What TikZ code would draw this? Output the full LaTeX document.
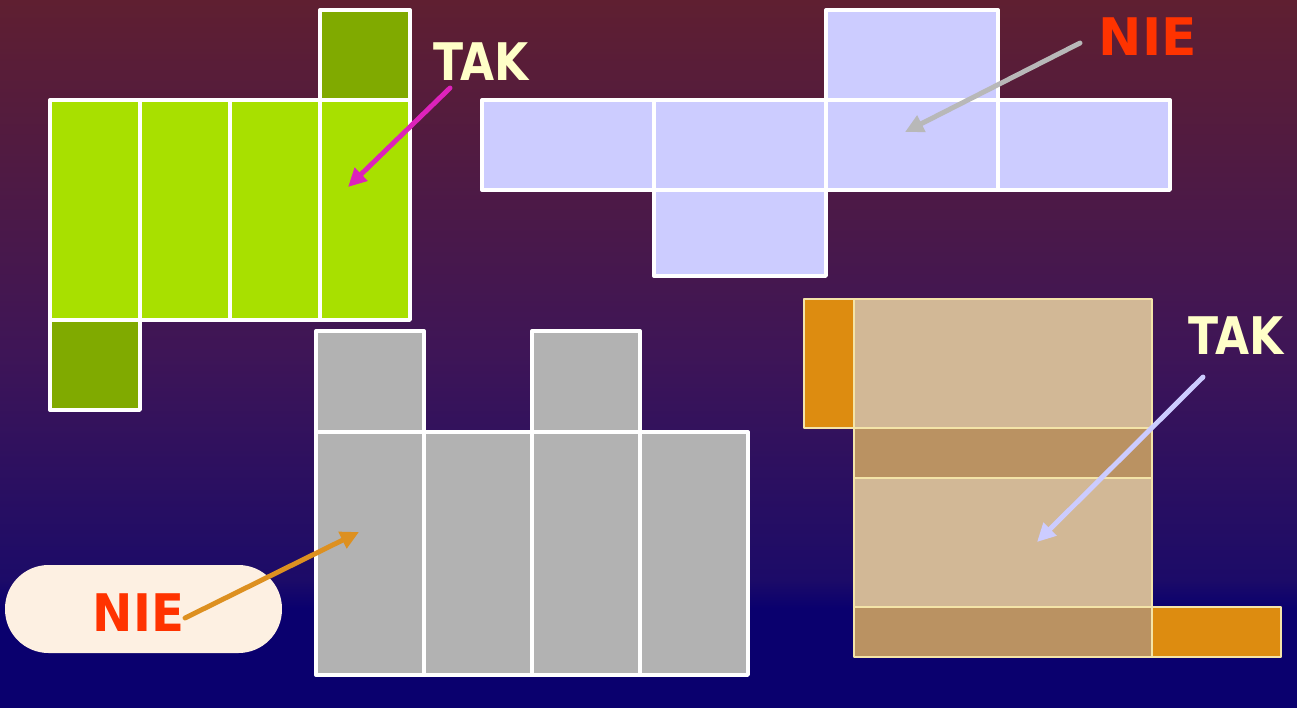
\documentclass[tikz,border=0pt]{standalone}
\usepackage{fontspec}
\setsansfont{DejaVu Sans}
\usetikzlibrary{arrows.meta}
\definecolor{bgtop}{HTML}{5F1F31}
\definecolor{bgmid}{HTML}{3E1557}
\definecolor{bglow}{HTML}{1C0B68}
\definecolor{bgbot}{HTML}{0A006E}
\definecolor{leafgreen}{HTML}{A8E000}
\definecolor{mossgreen}{HTML}{80AA00}
\definecolor{lavender}{HTML}{CCCCFF}
\definecolor{slate}{HTML}{B2B2B2}
\definecolor{sand}{HTML}{D2B896}
\definecolor{bark}{HTML}{BA9262}
\definecolor{amber}{HTML}{DD8C10}
\definecolor{cream}{HTML}{FFFFC8}
\definecolor{alarm}{HTML}{FF3300}
\definecolor{pinkarrow}{HTML}{DD22BB}
\definecolor{goldarrow}{HTML}{DD9020}
\definecolor{greyarrow}{HTML}{B8B8B8}
\definecolor{pillfill}{HTML}{FDF0E2}
\definecolor{seam}{HTML}{F4E4A8}
% the shaded path covers 25bp..75bp of the shading
\pgfdeclareverticalshading{slidebg}{100bp}{color(0bp)=(bgbot); color(32bp)=(bgbot); color(34bp)=(bglow); color(50bp)=(bgmid); color(75bp)=(bgtop); color(100bp)=(bgtop)}
\tikzset{
    face/.style={fill=#1, draw=white, line width=1.9pt},
    sandface/.style={fill=#1, draw=seam, line width=0.8pt},
    verdict/.style={font=\sffamily\bfseries\fontsize{29.5}{30}\selectfont, inner sep=0pt, anchor=base},
    pointer/.style={draw=#1, line width=2.8pt, -{Triangle[length=10.5pt,width=10pt]}}
}
\begin{document}
\begin{tikzpicture}[line join=round, line cap=round, x=0.02cm, y=-0.02cm]
    \shade[shading=slidebg] (0,0) rectangle (1297,707);
    % green net
    \foreach \c in {0, 1, 2, 3} {
        \draw[face=leafgreen] (50+90*\c,100) rectangle ++(90,220);
    }
    \draw[face=mossgreen] (320,10) rectangle (410,100);
    \draw[face=mossgreen] (50,320) rectangle (140,410);
    % lavender net
    \foreach \c in {0, 1, 2, 3} {
        \draw[face=lavender] (482+172*\c,100) rectangle ++(172,90);
    }
    \draw[face=lavender] (826,10) rectangle ++(172,90);
    \draw[face=lavender] (654,190) rectangle ++(172,86);
    % grey net
    \foreach \c in {0, 1, 2, 3} {
        \draw[face=slate] (316+108*\c,432) rectangle ++(108,243);
    }
    \foreach \c in {0, 2} {
        \draw[face=slate] (316+108*\c,331) rectangle ++(108,101);
    }
    % sand net
    \draw[sandface=amber] (804,299) rectangle (854,428);
    \draw[sandface=sand] (854,299) rectangle (1152,428);
    \draw[sandface=bark] (854,428) rectangle (1152,478);
    \draw[sandface=sand] (854,478) rectangle (1152,607);
    \draw[sandface=bark] (854,607) rectangle (1152,657);
    \draw[sandface=amber] (1152,607) rectangle (1281,657);
    % labels
    \node[verdict, text=cream] (takgreen) at (481,80) {\scalebox{0.85}[1]{TAK}};
    \node[verdict, text=alarm] (nielav) at (1148,55) {NIE};
    \node[verdict, text=cream] (taksand) at (1236,354) {\scalebox{0.85}[1]{TAK}};
    \node[fill=pillfill, rounded corners=0.87cm, minimum width=5.54cm, minimum height=1.76cm, inner sep=0pt] (pill) at (143.5,609) {};
    \node[verdict, text=alarm] (nieslate) at (138.5,631) {\scalebox{0.93}[1]{NIE}};
    % arrows
    \coordinate (pinkfrom) at (450,88);
    \coordinate (pinkto) at (348,187);
    \coordinate (greyfrom) at (1080,43);
    \coordinate (greyto) at (905,132);
    \coordinate (goldfrom) at (185,618);
    \coordinate (goldto) at (359,532);
    \coordinate (lavfrom) at (1203,377);
    \coordinate (lavto) at (1037,542);
    \draw[pointer=pinkarrow] (pinkfrom) -- (pinkto);
    \draw[pointer=greyarrow] (greyfrom) -- (greyto);
    \draw[pointer=goldarrow] (goldfrom) -- (goldto);
    \draw[pointer=lavender] (lavfrom) -- (lavto);
\end{tikzpicture}
\end{document}
